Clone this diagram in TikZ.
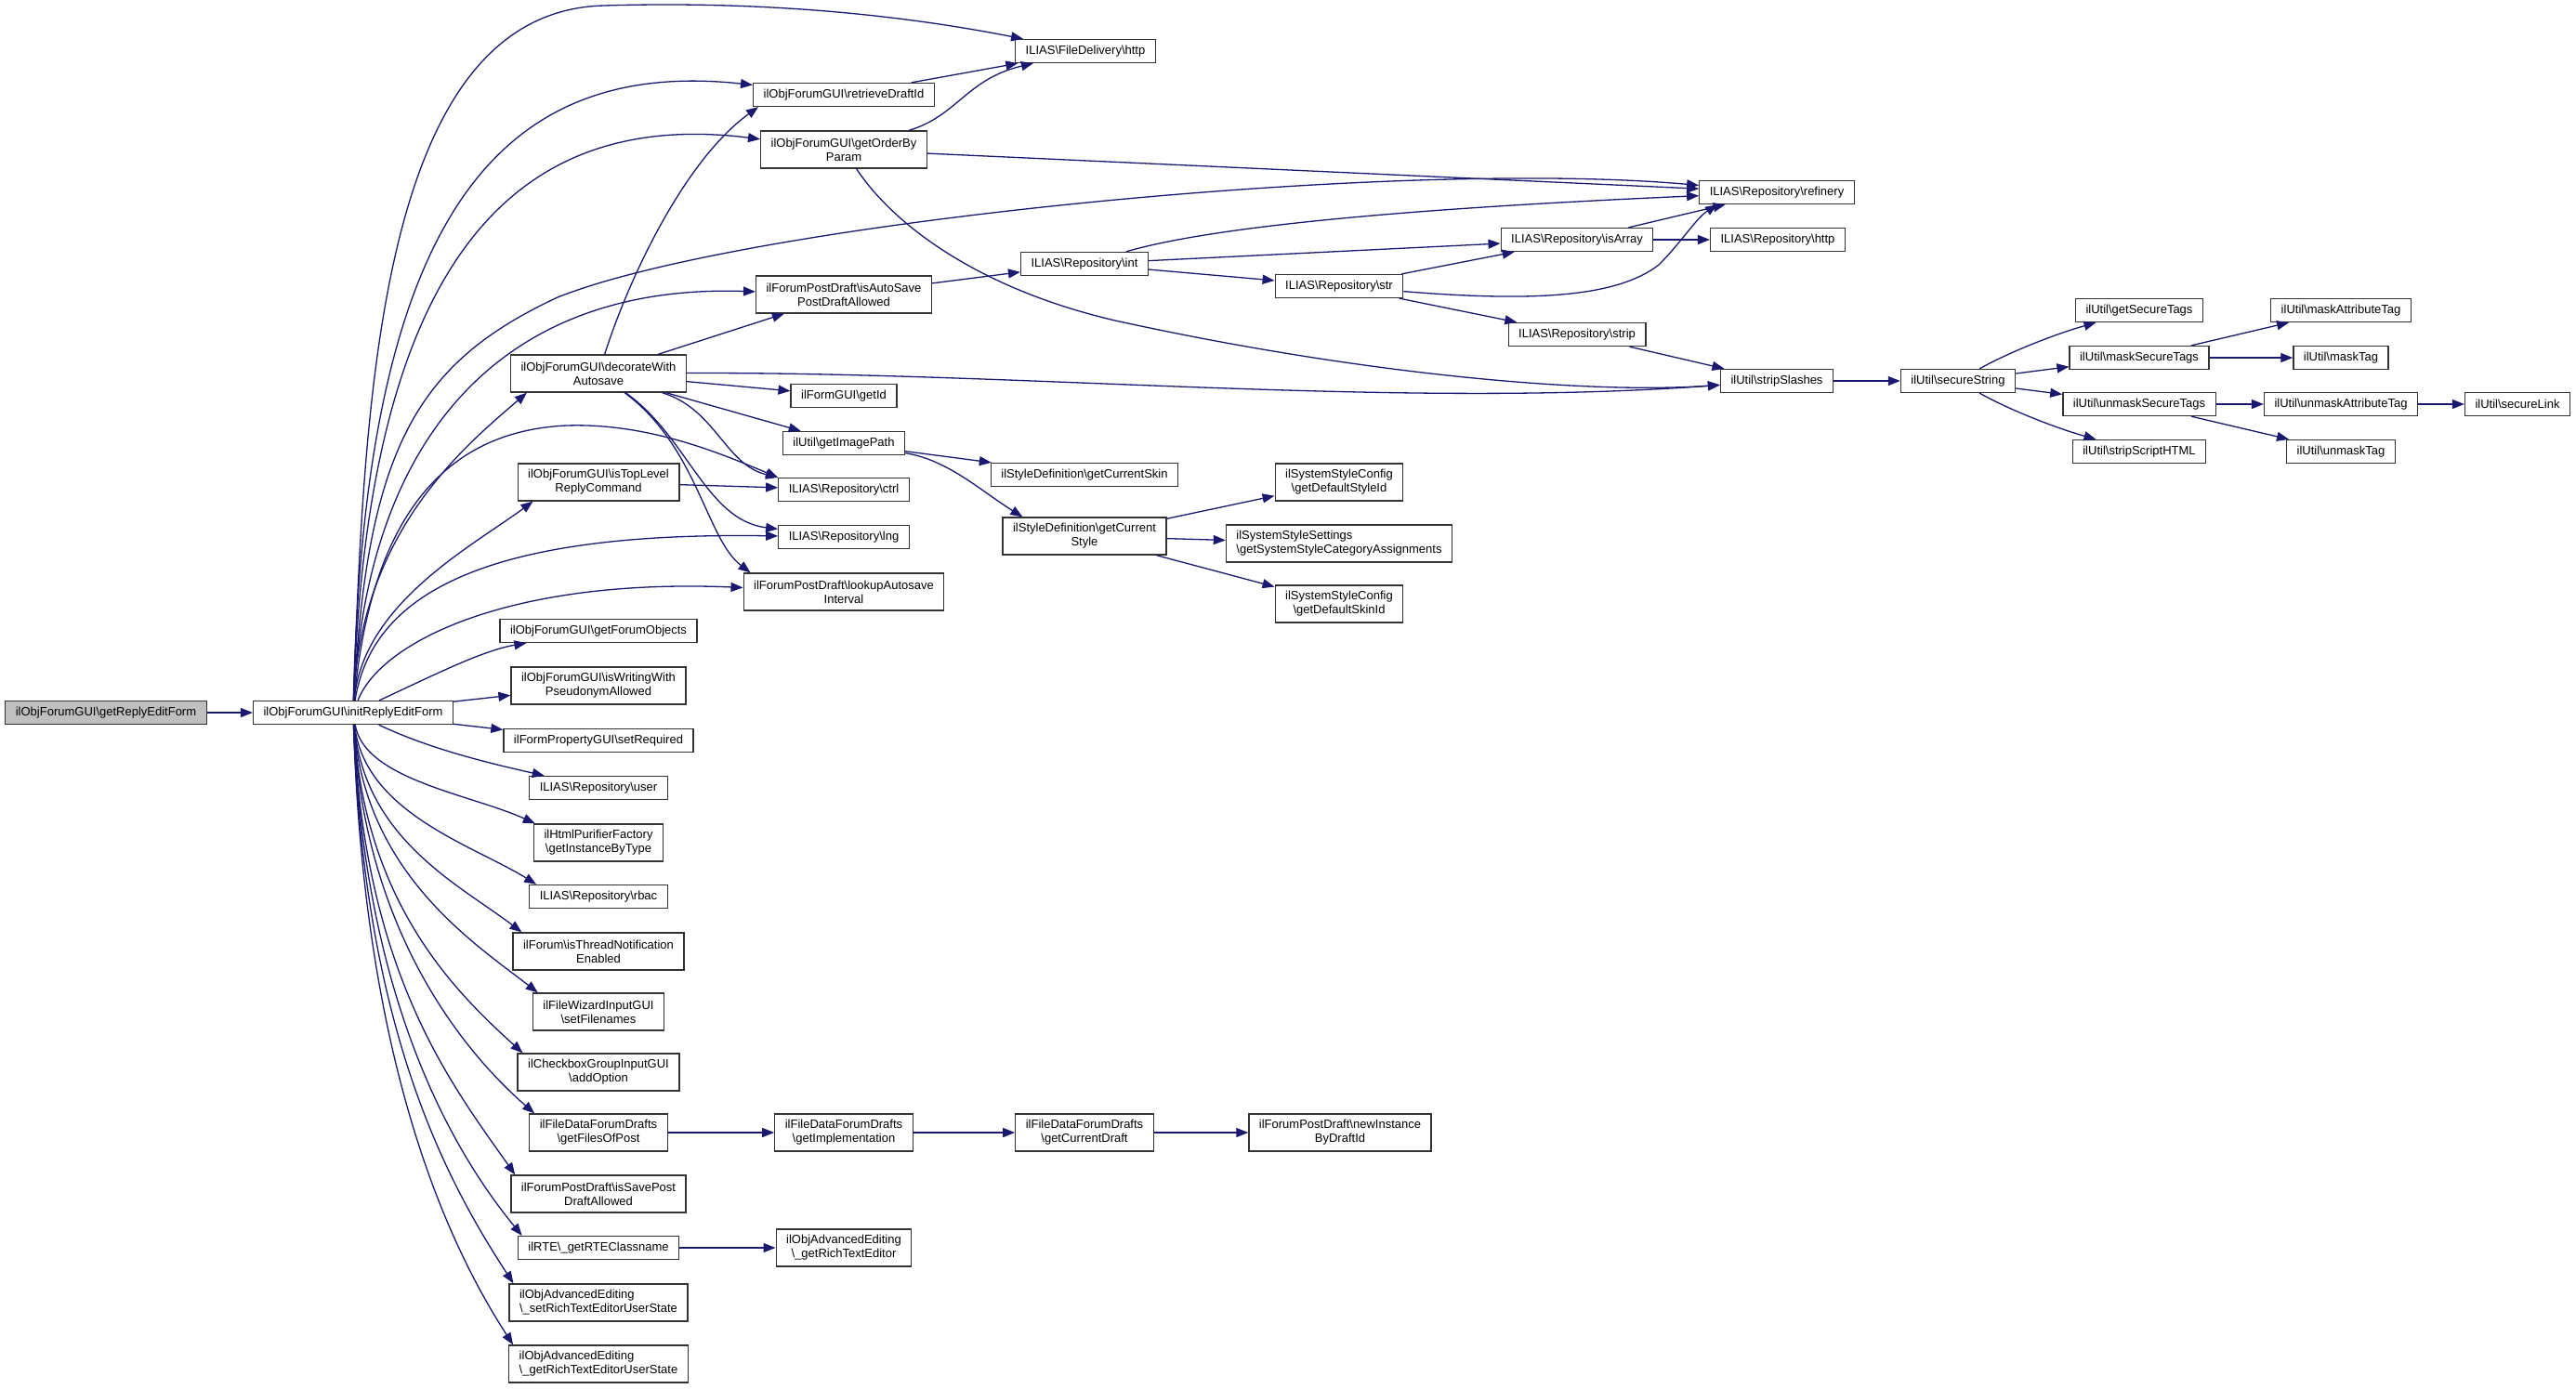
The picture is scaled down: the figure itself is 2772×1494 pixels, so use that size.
\documentclass[tikz,border=0pt]{standalone}
\usepackage{fontspec}
\setmainfont{Liberation Sans}
\usetikzlibrary{arrows.meta,calc}
\definecolor{edgeblue}{HTML}{191970}
\definecolor{rootgrey}{HTML}{BFBFBF}
\newcommand{\bsl}{\textbackslash}
\begin{document}
\begin{tikzpicture}[x=0.5pt,y=-0.5pt,
    box/.style={draw=black!80,line width=0.65pt,fill=white,inner xsep=5.5pt,inner ysep=0pt,
      minimum height=12.5pt,align=center,font=\fontsize{6.5}{7.5}\selectfont},
    tall/.style={box,minimum height=20pt},
    call/.style={draw=edgeblue,line width=0.65pt,-{Triangle[length=6.5pt,width=5pt]}}]
  \useasboundingbox[fill=white] (0,0) rectangle (2772,1494);

  \node[box,fill=rootgrey] (replyform) at (114,767) {ilObjForumGUI\bsl getReplyEditForm};
  \node[box] (initform) at (380,767) {ilObjForumGUI\bsl initReplyEditForm};

  \node[tall] (decorate) at (644,402) {ilObjForumGUI\bsl decorateWith\\Autosave};
  \node[tall] (toplevel) at (644,519) {ilObjForumGUI\bsl isTopLevel\\ReplyCommand};
  \node[box] (forumobj) at (644,679) {ilObjForumGUI\bsl getForumObjects};
  \node[tall] (pseudonym) at (644,738) {ilObjForumGUI\bsl isWritingWith\\PseudonymAllowed};
  \node[box] (setreq) at (644,797) {ilFormPropertyGUI\bsl setRequired};
  \node[box] (repouser) at (644,848) {ILIAS\bsl Repository\bsl user};
  \node[tall] (purifier) at (644,907) {ilHtmlPurifierFactory\\\bsl getInstanceByType};
  \node[box] (reporbac) at (644,965) {ILIAS\bsl Repository\bsl rbac};
  \node[tall] (threadnote) at (644,1024) {ilForum\bsl isThreadNotification\\Enabled};
  \node[tall] (filenames) at (644,1089) {ilFileWizardInputGUI\\\bsl setFilenames};
  \node[tall] (addoption) at (644,1154) {ilCheckboxGroupInputGUI\\\bsl addOption};
  \node[tall] (filesofpost) at (644,1219) {ilFileDataForumDrafts\\\bsl getFilesOfPost};
  \node[tall] (savedraft) at (644,1285) {ilForumPostDraft\bsl isSavePost\\DraftAllowed};
  \node[box] (rteclass) at (644,1343) {ilRTE\bsl\_getRTEClassname};
  \node[tall,align=left] (setrteus) at (644,1402) {ilObjAdvancedEditing\\\bsl\_setRichTextEditorUserState};
  \node[tall,align=left] (getrteus) at (644,1468) {ilObjAdvancedEditing\\\bsl\_getRichTextEditorUserState};

  \node[box] (retrieve) at (908,102) {ilObjForumGUI\bsl retrieveDraftId};
  \node[tall] (orderby) at (908,161) {ilObjForumGUI\bsl getOrderBy\\Param};
  \node[tall] (autosave) at (908,317) {ilForumPostDraft\bsl isAutoSave\\PostDraftAllowed};
  \node[box] (formid) at (908,426) {ilFormGUI\bsl getId};
  \node[box] (imgpath) at (908,477) {ilUtil\bsl getImagePath};
  \node[box] (repoctrl) at (908,527) {ILIAS\bsl Repository\bsl ctrl};
  \node[box] (repolng) at (908,578) {ILIAS\bsl Repository\bsl lng};
  \node[tall] (lookup) at (908,637) {ilForumPostDraft\bsl lookupAutosave\\Interval};
  \node[tall] (implement) at (908,1219) {ilFileDataForumDrafts\\\bsl getImplementation};
  \node[tall] (richeditor) at (908,1343) {ilObjAdvancedEditing\\\bsl\_getRichTextEditor};

  \node[box] (fdhttp) at (1168,55) {ILIAS\bsl FileDelivery\bsl http};
  \node[box] (repoint) at (1167,284) {ILIAS\bsl Repository\bsl int};
  \node[box] (curskin) at (1167,511) {ilStyleDefinition\bsl getCurrentSkin};
  \node[tall] (curstyle) at (1167,577) {ilStyleDefinition\bsl getCurrent\\Style};
  \node[tall] (curdraft) at (1167,1219) {ilFileDataForumDrafts\\\bsl getCurrentDraft};

  \node[box] (repostr) at (1441,308) {ILIAS\bsl Repository\bsl str};
  \node[tall] (defstyle) at (1441,519) {ilSystemStyleConfig\\\bsl getDefaultStyleId};
  \node[tall,align=left] (stylecat) at (1441,585) {ilSystemStyleSettings\\\bsl getSystemStyleCategoryAssignments};
  \node[tall] (defskin) at (1441,650) {ilSystemStyleConfig\\\bsl getDefaultSkinId};
  \node[tall] (newinst) at (1442,1219) {ilForumPostDraft\bsl newInstance\\ByDraftId};

  \node[box] (isarray) at (1697,258) {ILIAS\bsl Repository\bsl isArray};
  \node[box] (repostrip) at (1697,360) {ILIAS\bsl Repository\bsl strip};
  \node[box] (refinery) at (1912,207) {ILIAS\bsl Repository\bsl refinery};
  \node[box] (repohttp) at (1913,258) {ILIAS\bsl Repository\bsl http};
  \node[box] (stripsl) at (1912,410) {ilUtil\bsl stripSlashes};
  \node[box] (securestr) at (2107,410) {ilUtil\bsl secureString};

  \node[box] (securetags) at (2302,334) {ilUtil\bsl getSecureTags};
  \node[box] (masktags) at (2302,385) {ilUtil\bsl maskSecureTags};
  \node[box] (unmasktags) at (2302,435) {ilUtil\bsl unmaskSecureTags};
  \node[box] (stripscript) at (2302,486) {ilUtil\bsl stripScriptHTML};
  \node[box] (maskattr) at (2519,334) {ilUtil\bsl maskAttributeTag};
  \node[box] (masktag) at (2519,385) {ilUtil\bsl maskTag};
  \node[box] (unmaskattr) at (2519,435) {ilUtil\bsl unmaskAttributeTag};
  \node[box] (unmasktag) at (2519,486) {ilUtil\bsl unmaskTag};
  \node[box] (securelink) at (2709,435) {ilUtil\bsl secureLink};

  \draw[call] (replyform) -- (initform);
  \draw[call] (initform) .. controls (392,420) and (410,12) .. (650,6) .. controls (850,0) and (1000,22) .. (fdhttp);
  \draw[call] (initform) .. controls (392,260) and (520,60) .. (retrieve);
  \draw[call] (initform) .. controls (395,300) and (540,115) .. (orderby);
  \draw[call] (initform) .. controls (395,480) and (450,390) .. (600,320) .. controls (800,240) and (1500,170) .. (refinery);
  \draw[call] (initform) .. controls (395,470) and (540,305) .. (autosave);
  \draw[call] (initform) .. controls (388,570) and (503,478) .. ($(decorate.south west)+(18,0)$);
  \draw[call] (initform) .. controls (395,600) and (450,465) .. (610,458) .. controls (700,455) and (780,490) .. (repoctrl.north west);
  \draw[call] (initform) .. controls (390,650) and (508,588) .. ($(toplevel.south west)+(17,0)$);
  \draw[call] (initform) .. controls (400,640) and (520,572) .. (repolng);
  \draw[call] (initform) .. controls (410,690) and (550,622) .. (lookup);
  \draw[call] (initform) .. controls (470,725) and (520,700) .. (forumobj);
  \draw[call] (initform) -- (pseudonym);
  \draw[call] (initform) -- (setreq);
  \draw[call] (initform) .. controls (460,805) and (520,820) .. (repouser);
  \draw[call] (initform) .. controls (392,839) and (507,855) .. ($(purifier.north west)+(2,0)$);
  \draw[call] (initform) .. controls (392,875) and (510,910) .. ($(reporbac.north west)+(8,0)$);
  \draw[call] (initform) .. controls (392,903) and (494,952) .. ($(threadnote.north west)+(10,0)$);
  \draw[call] (initform) .. controls (392,939) and (510,1015) .. ($(filenames.north west)+(6,0)$);
  \draw[call] (initform) .. controls (392,975) and (494,1071) .. ($(addoption.north west)+(6,0)$);
  \draw[call] (initform) .. controls (392,1010) and (507,1139) .. ($(filesofpost.north west)+(6,0)$);
  \draw[call] (initform) .. controls (392,1047) and (485,1166) .. ($(savedraft.north west)+(5,0)$);
  \draw[call] (initform) .. controls (392,1083) and (492,1245) .. ($(rteclass.north west)+(5,0)$);
  \draw[call] (initform) .. controls (392,1111) and (482,1273) .. ($(setrteus.north west)+(5,0)$);
  \draw[call] (initform) .. controls (392,1147) and (482,1339) .. ($(getrteus.north west)+(5,0)$);

  \draw[call] (decorate) .. controls (680,290) and (740,170) .. ($(retrieve.south west)+(6,0)$);
  \draw[call] (decorate) -- (autosave);
  \draw[call] (decorate) .. controls (1100,400) and (1500,440) .. (stripsl);
  \draw[call] (decorate) -- (formid);
  \draw[call] (decorate) -- (imgpath);
  \draw[call] (decorate) .. controls (770,440) and (780,500) .. (repoctrl.north west);
  \draw[call] (decorate) .. controls (740,470) and (760,560) .. (repolng);
  \draw[call] (decorate) .. controls (750,480) and (760,580) .. ($(lookup.north west)+(8,0)$);
  \draw[call] (toplevel) -- (repoctrl);

  \draw[call] (retrieve) -- (fdhttp);
  \draw[call] (orderby) .. controls (1030,125) and (1040,85) .. (fdhttp);
  \draw[call] (orderby) -- (refinery);
  \draw[call] (orderby) .. controls (960,240) and (1050,310) .. (1200,345) .. controls (1450,400) and (1700,425) .. (stripsl);
  \draw[call] (autosave) -- (repoint);
  \draw[call] (repoint) .. controls (1300,245) and (1500,225) .. (refinery);
  \draw[call] (repoint) -- (isarray);
  \draw[call] (repoint) -- (repostr);
  \draw[call] (repostr) -- (isarray);
  \draw[call] (repostr) .. controls (1650,325) and (1740,320) .. (1785,285) .. controls (1810,260) and (1825,235) .. ($(refinery.south west)+(20,0)$);
  \draw[call] (repostr) -- (repostrip);
  \draw[call] (isarray) -- (refinery);
  \draw[call] (isarray) -- (repohttp);
  \draw[call] (repostrip) -- (stripsl);
  \draw[call] (stripsl) -- (securestr);
  \draw[call] (securestr) .. controls (2160,380) and (2210,360) .. (securetags);
  \draw[call] (securestr) -- (masktags);
  \draw[call] (securestr) -- (unmasktags);
  \draw[call] (securestr) .. controls (2160,440) and (2210,460) .. (stripscript);
  \draw[call] (masktags) -- (maskattr);
  \draw[call] (masktags) -- (masktag);
  \draw[call] (unmasktags) -- (unmaskattr);
  \draw[call] (unmasktags) -- (unmasktag);
  \draw[call] (unmaskattr) -- (securelink);

  \draw[call] (imgpath) -- (curskin);
  \draw[call] (imgpath) .. controls (1020,495) and (1055,528) .. ($(curstyle.north west)+(22,0)$);
  \draw[call] (curstyle) -- (defstyle);
  \draw[call] (curstyle) -- (stylecat);
  \draw[call] (curstyle) -- (defskin);
  \draw[call] (filesofpost) -- (implement);
  \draw[call] (implement) -- (curdraft);
  \draw[call] (curdraft) -- (newinst);
  \draw[call] (rteclass) -- (richeditor);
\end{tikzpicture}
\end{document}
